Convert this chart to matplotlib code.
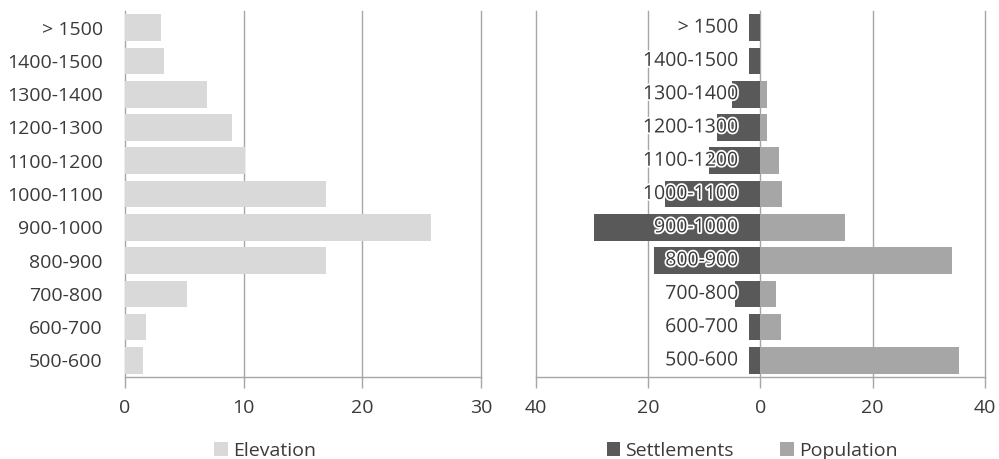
"""
Elevation / settlements / population by elevation band.
"""

import matplotlib
matplotlib.use("Agg")
import matplotlib.pyplot as plt
import matplotlib.patheffects as pe
import numpy as np

plt.rcParams['font.family'] = ['Open Sans', 'DejaVu Sans']

bands = ["500-600", "600-700", "700-800", "800-900", "900-1000", "1000-1100",
         "1100-1200", "1200-1300", "1300-1400", "1400-1500", "> 1500"]
elevation = [1.55, 1.75, 5.2, 16.9, 25.8, 16.9, 10.1, 9.0, 6.9, 3.3, 3.0]
settlements = [2.0, 2.0, 4.5, 19.0, 29.6, 17.0, 9.2, 7.8, 5.0, 2.0, 2.0]
population = [35.4, 3.7, 2.8, 34.1, 15.1, 3.8, 3.3, 1.1, 1.2, 0.0, 0.0]

left_ticks = [0, 10, 20, 30]
right_ticks = [-40, -20, 0, 20, 40]

c_elev = "#d9d9d9"
c_sett = "#595959"
c_pop = "#a6a6a6"
c_grid = "#a6a6a6"
c_text = "#3a3a3a"
fs = 14

fig = plt.figure(figsize=(9.99, 4.59), dpi=100)
ax1 = fig.add_axes([0.1251, 0.1786, 0.3564, 0.7974])
ax2 = fig.add_axes([0.5365, 0.1786, 0.4494, 0.7974])

y = np.arange(len(bands))

# left panel
ax1.barh(y, elevation, height=0.8, color=c_elev, label="Elevation", zorder=2)
ax1.set_xlim(0, 30)
ax1.set_ylim(-0.5, len(bands) - 0.5)
ax1.set_xticks(left_ticks)
ax1.set_yticks(y)
ax1.set_yticklabels(bands)

# right panel
ax2.barh(y, [-s for s in settlements], height=0.8, color=c_sett,
         label="Settlements", zorder=2)
ax2.barh(y, population, height=0.8, color=c_pop, label="Population", zorder=2)
ax2.set_xlim(-40, 40)
ax2.set_ylim(-0.5, len(bands) - 0.5)
ax2.set_xticks(right_ticks)
ax2.set_xticklabels([str(abs(t)) for t in right_ticks])
ax2.set_yticks([])
for yi, lab in zip(y, bands):
    ax2.annotate(lab, xy=(0, yi), xytext=(-15.6, 0), textcoords="offset points",
                 ha="right", va="center", fontsize=fs, color=c_text, zorder=5,
                 path_effects=[pe.withStroke(linewidth=2.5, foreground="white")])

for ax in (ax1, ax2):
    for s in ("top", "right", "left"):
        ax.spines[s].set_visible(False)
    ax.spines["bottom"].set_color(c_grid)
    ax.spines["bottom"].set_linewidth(1.0)
    ax.xaxis.grid(True, color=c_grid, linewidth=1.0, zorder=0)
    ax.set_axisbelow(True)
    ax.tick_params(axis="x", length=8, width=1.0, color=c_grid, labelsize=fs,
                   labelcolor=c_text, pad=8)
    ax.tick_params(axis="y", length=0, labelsize=fs, labelcolor=c_text, pad=16)
    for gl in ax.get_xgridlines():
        gl.set_clip_on(False)

ax1.legend(loc="upper center", bbox_to_anchor=(0.393, -0.13), frameon=False,
           fontsize=fs, labelcolor=c_text, handlelength=0.7, handleheight=0.7,
           handletextpad=0.25)
ax2.legend(loc="upper center", bbox_to_anchor=(0.481, -0.13), frameon=False,
           fontsize=fs, labelcolor=c_text, ncol=2, handlelength=0.7,
           handleheight=0.7, handletextpad=0.25, columnspacing=2.4)

fig.savefig("out.png", dpi=100)
